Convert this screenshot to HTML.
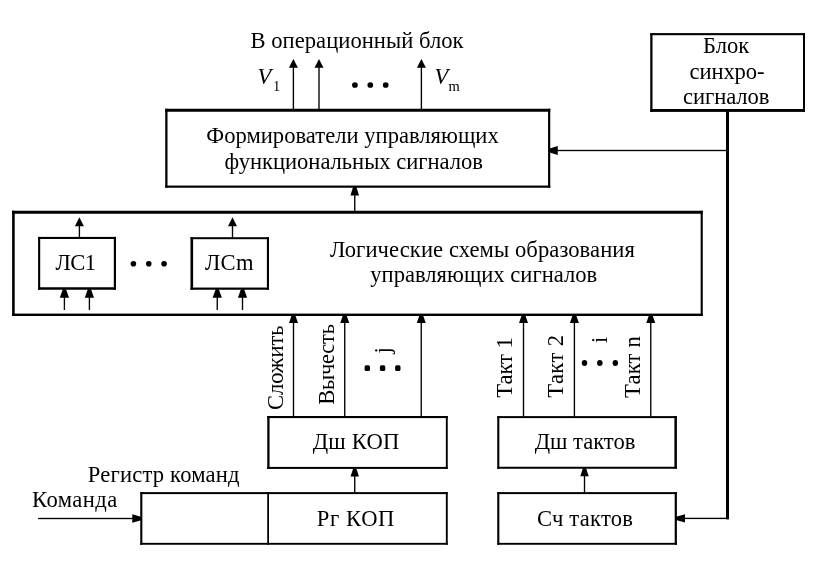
<!DOCTYPE html>
<html><head><meta charset="utf-8"><style>
html,body{margin:0;padding:0;background:#fff;}
body{width:816px;height:568px;overflow:hidden;}
svg{display:block;will-change:transform;}
text{font-family:"Liberation Serif",serif;fill:#000;}
</style></head><body>
<svg width="816" height="568" viewBox="0 0 816 568">
<g fill="#000">
<rect x="165.25" y="108.75" width="385.00" height="3.00"/>
<rect x="548.05" y="108.75" width="2.20" height="79.00"/>
<rect x="165.25" y="185.55" width="385.00" height="2.20"/>
<rect x="165.25" y="108.75" width="2.25" height="79.00"/>
<rect x="650.25" y="33.10" width="154.75" height="2.10"/>
<rect x="803.00" y="33.10" width="2.00" height="78.80"/>
<rect x="650.25" y="109.00" width="154.75" height="2.90"/>
<rect x="650.25" y="33.10" width="2.25" height="78.80"/>
<rect x="12.10" y="210.75" width="690.65" height="3.00"/>
<rect x="700.65" y="210.75" width="2.10" height="105.25"/>
<rect x="12.10" y="313.60" width="690.65" height="2.40"/>
<rect x="12.10" y="210.75" width="2.60" height="105.25"/>
<rect x="38.10" y="236.90" width="77.90" height="2.10"/>
<rect x="113.80" y="236.90" width="2.20" height="52.85"/>
<rect x="38.10" y="287.25" width="77.90" height="2.50"/>
<rect x="38.10" y="236.90" width="2.10" height="52.85"/>
<rect x="190.50" y="237.20" width="78.50" height="2.00"/>
<rect x="266.90" y="237.20" width="2.10" height="52.55"/>
<rect x="190.50" y="287.55" width="78.50" height="2.20"/>
<rect x="190.50" y="237.20" width="2.60" height="52.55"/>
<rect x="267.25" y="416.00" width="180.50" height="2.10"/>
<rect x="445.85" y="416.00" width="1.90" height="52.90"/>
<rect x="267.25" y="466.90" width="180.50" height="2.00"/>
<rect x="267.25" y="416.00" width="2.30" height="52.90"/>
<rect x="497.25" y="416.10" width="179.65" height="2.00"/>
<rect x="674.40" y="416.10" width="2.50" height="52.65"/>
<rect x="497.25" y="466.75" width="179.65" height="2.00"/>
<rect x="497.25" y="416.10" width="2.10" height="52.65"/>
<rect x="140.25" y="492.10" width="307.50" height="2.00"/>
<rect x="445.85" y="492.10" width="1.90" height="52.65"/>
<rect x="140.25" y="542.85" width="307.50" height="1.90"/>
<rect x="140.25" y="492.10" width="2.10" height="52.65"/>
<rect x="497.25" y="492.10" width="179.65" height="2.00"/>
<rect x="674.70" y="492.10" width="2.20" height="52.65"/>
<rect x="497.25" y="542.85" width="179.65" height="1.90"/>
<rect x="497.25" y="492.10" width="2.10" height="52.65"/>
<rect x="267.25" y="492.10" width="1.75" height="52.65"/>
<rect x="726.00" y="110.00" width="3.00" height="409.40"/>
<rect x="292.72" y="66.80" width="1.35" height="42.70"/>
<path d="M293.40 59.00L297.90 67.80L288.90 67.80Z"/>
<rect x="318.32" y="66.80" width="1.35" height="42.70"/>
<path d="M319.00 59.00L323.50 67.80L314.50 67.80Z"/>
<rect x="420.72" y="66.80" width="1.35" height="42.70"/>
<path d="M421.40 59.00L425.90 67.80L416.90 67.80Z"/>
<rect x="354.07" y="194.60" width="1.35" height="16.90"/>
<path d="M353.15 186.75L356.35 186.75L359.05 195.60L350.45 195.60Z"/>
<rect x="78.73" y="225.25" width="1.35" height="12.25"/>
<path d="M79.40 217.25L83.90 226.25L74.90 226.25Z"/>
<rect x="231.82" y="225.25" width="1.35" height="12.25"/>
<path d="M232.50 217.25L237.00 226.25L228.00 226.25Z"/>
<rect x="63.73" y="296.75" width="1.35" height="13.25"/>
<path d="M62.80 289.25L66.00 289.25L69.00 297.75L59.80 297.75Z"/>
<rect x="88.73" y="296.75" width="1.35" height="13.25"/>
<path d="M87.80 289.25L91.00 289.25L94.00 297.75L84.80 297.75Z"/>
<rect x="216.57" y="296.75" width="1.35" height="13.25"/>
<path d="M215.65 289.25L218.85 289.25L221.85 297.75L212.65 297.75Z"/>
<rect x="241.82" y="296.75" width="1.35" height="13.25"/>
<path d="M240.90 289.25L244.10 289.25L247.10 297.75L237.90 297.75Z"/>
<rect x="292.82" y="321.90" width="1.35" height="94.60"/>
<path d="M291.70 315.30L295.30 315.30L298.00 322.90L289.00 322.90Z"/>
<rect x="344.07" y="321.90" width="1.35" height="94.60"/>
<path d="M342.95 315.30L346.55 315.30L349.25 322.90L340.25 322.90Z"/>
<rect x="420.57" y="321.90" width="1.35" height="94.60"/>
<path d="M419.45 315.30L423.05 315.30L425.75 322.90L416.75 322.90Z"/>
<rect x="522.83" y="321.90" width="1.35" height="94.60"/>
<path d="M521.70 315.30L525.30 315.30L528.00 322.90L519.00 322.90Z"/>
<rect x="573.73" y="321.90" width="1.35" height="94.60"/>
<path d="M572.60 315.30L576.20 315.30L578.90 322.90L569.90 322.90Z"/>
<rect x="650.08" y="321.90" width="1.35" height="94.60"/>
<path d="M648.95 315.30L652.55 315.30L655.25 322.90L646.25 322.90Z"/>
<rect x="354.07" y="475.50" width="1.35" height="17.00"/>
<path d="M353.15 468.50L356.35 468.50L358.95 476.50L350.55 476.50Z"/>
<rect x="583.83" y="475.30" width="1.35" height="17.20"/>
<path d="M582.90 468.25L586.10 468.25L588.70 476.30L580.30 476.30Z"/>
<rect x="556.75" y="149.82" width="170.25" height="1.35"/>
<path d="M548.90 148.80L557.75 146.00L557.75 155.00L548.90 152.20Z"/>
<rect x="684.00" y="517.73" width="43.50" height="1.35"/>
<path d="M676.00 516.70L685.00 514.20L685.00 522.60L676.00 520.10Z"/>
<rect x="38.10" y="517.83" width="95.15" height="1.35"/>
<path d="M141.00 516.80L132.25 514.30L132.25 522.70L141.00 520.20Z"/>
<circle cx="354.9" cy="85.0" r="2.85"/>
<circle cx="370.3" cy="85.0" r="2.85"/>
<circle cx="385.7" cy="85.0" r="2.85"/>
<circle cx="133.4" cy="263.8" r="2.8"/>
<circle cx="148.75" cy="263.8" r="2.8"/>
<circle cx="164.1" cy="263.8" r="2.8"/>
<rect x="364.60" y="365.3" width="5.4" height="5.7" rx="1.6"/>
<rect x="379.90" y="365.3" width="5.4" height="5.7" rx="1.6"/>
<rect x="395.10" y="365.3" width="5.4" height="5.7" rx="1.6"/>
<ellipse cx="584.5" cy="363.1" rx="2.75" ry="3.0"/>
<ellipse cx="599.8" cy="363.1" rx="2.75" ry="3.0"/>
<ellipse cx="615.3" cy="363.1" rx="2.75" ry="3.0"/>
</g>
<g>
<text id="top" x="250.50" y="48.10" font-size="22.6" textLength="213.03" lengthAdjust="spacing">В операционный блок</text>
<text id="V1" x="257.50" y="83.75" font-size="22.6" font-style="italic">V</text>
<text id="s1" x="273.00" y="90.75" font-size="14.5">1</text>
<text id="Vm" x="434.40" y="83.75" font-size="22.6" font-style="italic">V</text>
<text id="sm" x="448.50" y="90.90" font-size="14.5">m</text>
<text id="f1" x="206.30" y="143.00" font-size="22.6" textLength="292.43" lengthAdjust="spacing">Формирователи управляющих</text>
<text id="f2" x="224.60" y="169.00" font-size="22.6" textLength="258.38" lengthAdjust="spacing">функциональных сигналов</text>
<text id="b1" x="703.05" y="52.75" font-size="22.6" textLength="46.23" lengthAdjust="spacing">Блок</text>
<text id="b2" x="689.50" y="78.75" font-size="22.6" textLength="75.04" lengthAdjust="spacing">синхро-</text>
<text id="b3" x="683.05" y="104.40" font-size="22.6" textLength="86.30" lengthAdjust="spacing">сигналов</text>
<text id="l1" x="329.90" y="256.90" font-size="22.6" textLength="305.00" lengthAdjust="spacing">Логические схемы образования</text>
<text id="l2" x="370.25" y="282.30" font-size="22.6" textLength="227.02" lengthAdjust="spacing">управляющих сигналов</text>
<text id="ls1" x="55.50" y="270.00" font-size="22.6" textLength="40.50" lengthAdjust="spacing">ЛС1</text>
<text id="lsm" x="205.00" y="269.90" font-size="22.6" textLength="48.47" lengthAdjust="spacing">ЛСm</text>
<text id="dk" x="312.70" y="448.75" font-size="22.6" textLength="86.61" lengthAdjust="spacing">Дш КОП</text>
<text id="dt" x="534.70" y="448.75" font-size="22.6" textLength="100.61" lengthAdjust="spacing">Дш тактов</text>
<text id="rk" x="316.70" y="526.00" font-size="22.6" textLength="77.73" lengthAdjust="spacing">Рг КОП</text>
<text id="st" x="536.90" y="525.60" font-size="22.6" textLength="95.99" lengthAdjust="spacing">Сч тактов</text>
<text id="rg" x="87.80" y="481.90" font-size="22.6" textLength="151.73" lengthAdjust="spacing">Регистр команд</text>
<text id="km" x="32.10" y="506.90" font-size="22.6" textLength="85.06" lengthAdjust="spacing">Команда</text>
<text id="sl" x="283.00" y="410.00" font-size="22.6" textLength="84.57" lengthAdjust="spacing" transform="rotate(-90 283.00 410.00)">Сложить</text>
<text id="vy" x="334.00" y="404.75" font-size="22.6" textLength="80.77" lengthAdjust="spacing" transform="rotate(-90 334.00 404.75)">Вычесть</text>
<text id="t1" x="512.10" y="397.75" font-size="22.6" textLength="60.62" lengthAdjust="spacing" transform="rotate(-90 512.10 397.75)">Такт 1</text>
<text id="t2" x="563.00" y="397.75" font-size="22.6" textLength="62.77" lengthAdjust="spacing" transform="rotate(-90 563.00 397.75)">Такт 2</text>
<text id="tn" x="639.70" y="398.00" font-size="22.6" textLength="61.77" lengthAdjust="spacing" transform="rotate(-90 639.70 398.00)">Такт n</text>
<text id="j" x="389.50" y="353.50" font-size="22.6" transform="rotate(-90 389.50 353.50)">j</text>
<text id="i" x="606.50" y="343.00" font-size="22.6" transform="rotate(-90 606.50 343.00)">i</text>
</g>
</svg>
</body></html>
